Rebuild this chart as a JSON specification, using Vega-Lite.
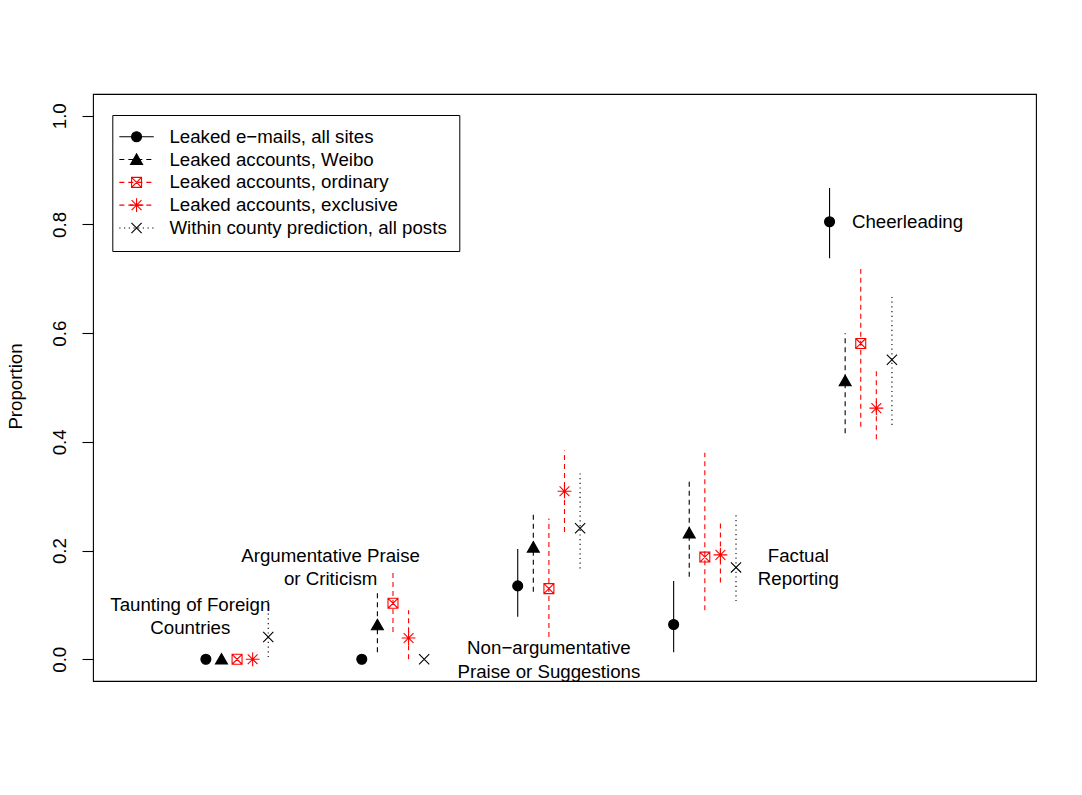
{
  "$schema": "https://vega.github.io/schema/vega-lite/v6.json",
  "width": 943,
  "height": 587,
  "autosize": {"type": "none"},
  "padding": {"left": 93, "top": 94, "right": 46, "bottom": 114},
  "background": "white",
  "config": {
    "view": {"stroke": "black", "strokeWidth": 1.1},
    "font": "Liberation Sans"
  },
  "data": {
    "values": [
      {"category": "Taunting of Foreign Countries", "series": "Leaked e−mails, all sites", "x": 0.8, "est": 0, "lo": 0, "hi": 0},
      {"category": "Taunting of Foreign Countries", "series": "Leaked accounts, Weibo", "x": 0.9, "est": 0, "lo": 0, "hi": 0},
      {"category": "Taunting of Foreign Countries", "series": "Leaked accounts, ordinary", "x": 1.0, "est": 0, "lo": 0, "hi": 0},
      {"category": "Taunting of Foreign Countries", "series": "Leaked accounts, exclusive", "x": 1.1, "est": 0, "lo": 0, "hi": 0},
      {"category": "Taunting of Foreign Countries", "series": "Within county prediction, all posts", "x": 1.2, "est": 0.041, "lo": 0.004, "hi": 0.109},
      {"category": "Argumentative Praise or Criticism", "series": "Leaked e−mails, all sites", "x": 1.8, "est": 0, "lo": 0, "hi": 0},
      {"category": "Argumentative Praise or Criticism", "series": "Leaked accounts, Weibo", "x": 1.9, "est": 0.063, "lo": 0.013, "hi": 0.122},
      {"category": "Argumentative Praise or Criticism", "series": "Leaked accounts, ordinary", "x": 2.0, "est": 0.103, "lo": 0.05, "hi": 0.162},
      {"category": "Argumentative Praise or Criticism", "series": "Leaked accounts, exclusive", "x": 2.1, "est": 0.039, "lo": 0, "hi": 0.09},
      {"category": "Argumentative Praise or Criticism", "series": "Within county prediction, all posts", "x": 2.2, "est": 0, "lo": 0, "hi": 0},
      {"category": "Non-argumentative Praise or Suggestions", "series": "Leaked e−mails, all sites", "x": 2.8, "est": 0.135, "lo": 0.078, "hi": 0.203},
      {"category": "Non-argumentative Praise or Suggestions", "series": "Leaked accounts, Weibo", "x": 2.9, "est": 0.206, "lo": 0.124, "hi": 0.271},
      {"category": "Non-argumentative Praise or Suggestions", "series": "Leaked accounts, ordinary", "x": 3.0, "est": 0.13, "lo": 0.041, "hi": 0.259},
      {"category": "Non-argumentative Praise or Suggestions", "series": "Leaked accounts, exclusive", "x": 3.1, "est": 0.309, "lo": 0.234, "hi": 0.384},
      {"category": "Non-argumentative Praise or Suggestions", "series": "Within county prediction, all posts", "x": 3.2, "est": 0.241, "lo": 0.167, "hi": 0.342},
      {"category": "Factual Reporting", "series": "Leaked e−mails, all sites", "x": 3.8, "est": 0.064, "lo": 0.013, "hi": 0.144},
      {"category": "Factual Reporting", "series": "Leaked accounts, Weibo", "x": 3.9, "est": 0.232, "lo": 0.152, "hi": 0.328},
      {"category": "Factual Reporting", "series": "Leaked accounts, ordinary", "x": 4.0, "est": 0.188, "lo": 0.09, "hi": 0.38},
      {"category": "Factual Reporting", "series": "Leaked accounts, exclusive", "x": 4.1, "est": 0.192, "lo": 0.141, "hi": 0.254},
      {"category": "Factual Reporting", "series": "Within county prediction, all posts", "x": 4.2, "est": 0.169, "lo": 0.107, "hi": 0.265},
      {"category": "Cheerleading", "series": "Leaked e−mails, all sites", "x": 4.8, "est": 0.805, "lo": 0.738, "hi": 0.867},
      {"category": "Cheerleading", "series": "Leaked accounts, Weibo", "x": 4.9, "est": 0.512, "lo": 0.416, "hi": 0.6},
      {"category": "Cheerleading", "series": "Leaked accounts, ordinary", "x": 5.0, "est": 0.581, "lo": 0.428, "hi": 0.718},
      {"category": "Cheerleading", "series": "Leaked accounts, exclusive", "x": 5.1, "est": 0.462, "lo": 0.405, "hi": 0.534},
      {"category": "Cheerleading", "series": "Within county prediction, all posts", "x": 5.2, "est": 0.551, "lo": 0.431, "hi": 0.67}
    ]
  },
  "encoding": {
    "x": {"field": "x", "type": "quantitative", "scale": {"domain": [0.076, 6.124], "nice": false, "zero": false}, "axis": null},
    "y": {
      "type": "quantitative",
      "scale": {"domain": [-0.04, 1.04], "nice": false, "zero": false},
      "axis": {
        "values": [0, 0.2, 0.4, 0.6, 0.8, 1],
        "format": ".1f",
        "title": "Proportion",
        "domain": false,
        "grid": false,
        "ticks": true,
        "tickSize": 11,
        "tickColor": "black",
        "tickWidth": 1.1,
        "labelAngle": 270,
        "labelAlign": "center",
        "labelBaseline": "middle",
        "labelPadding": 22.5,
        "labelFont": "Liberation Sans",
        "labelFontSize": 18.7,
        "labelColor": "black",
        "labelOverlap": false,
        "labelBound": false,
        "labelFlush": false,
        "titleFont": "Liberation Sans",
        "titleFontSize": 18.7,
        "titleFontWeight": "normal",
        "titleColor": "black",
        "titleAngle": 270,
        "titleX": -78,
        "titleY": 292,
        "titleAlign": "center",
        "titleBaseline": "middle"
      }
    }
  },
  "layer": [
    {
      "mark": {"type": "rule", "strokeWidth": 1.1},
      "encoding": {
        "y": {"field": "lo"},
        "y2": {"field": "hi"},
        "color": {
          "field": "series", "type": "nominal",
          "scale": {
            "domain": ["Leaked e−mails, all sites", "Leaked accounts, Weibo", "Leaked accounts, ordinary", "Leaked accounts, exclusive", "Within county prediction, all posts"],
            "range": ["black", "black", "#ff0000", "#ff0000", "black"]
          },
          "legend": {
            "title": null, "orient": "none", "direction": "vertical", "legendX": 19.3, "legendY": 21,
            "symbolType": "M-2.87,0H2.87",
            "symbolSize": 144, "symbolStrokeWidth": 1.1,
            "padding": 12.4, "rowPadding": 2.8, "symbolOffset": 2.5, "labelOffset": 23.5,
            "strokeColor": "black",
            "labelFont": "Liberation Sans", "labelFontSize": 18.7, "labelColor": "black", "labelLimit": 600
          }
        },
        "strokeDash": {
          "field": "series", "type": "nominal",
          "scale": {
            "domain": ["Leaked e−mails, all sites", "Leaked accounts, Weibo", "Leaked accounts, ordinary", "Leaked accounts, exclusive", "Within county prediction, all posts"],
            "range": [[1, 0], [5, 4], [5, 4], [5, 4], [1.2, 3.5]]
          },
          "legend": {
            "title": null, "orient": "none", "direction": "vertical", "legendX": 19.3, "legendY": 21,
            "symbolType": "M-2.87,0H2.87",
            "symbolSize": 144, "symbolStrokeWidth": 1.1,
            "padding": 12.4, "rowPadding": 2.8, "symbolOffset": 2.5, "labelOffset": 23.5,
            "strokeColor": "black",
            "labelFont": "Liberation Sans", "labelFontSize": 18.7, "labelColor": "black", "labelLimit": 600
          }
        }
      }
    },
    {
      "mark": {"type": "point", "size": 144, "strokeWidth": 1.1, "opacity": 1},
      "encoding": {
        "y": {"field": "est"},
        "shape": {
          "field": "series", "type": "nominal", "sort": null,
          "scale": {
            "range": [
              "M-2.87,0M2.87,0M-0.83,0A0.83,0.83,0,1,1,0.83,0A0.83,0.83,0,1,1,-0.83,0Z",
              "M-2.87,0M2.87,0M0,-0.95L1,0.8L-1,0.8Z",
              "M-2.87,0M2.87,0M-0.83,-0.83H0.83V0.83H-0.83ZM-0.83,-0.83L0.83,0.83M-0.83,0.83L0.83,-0.83",
              "M-2.87,0M2.87,0M-1.15,0H1.15M0,-1.15V1.15M-0.82,-0.82L0.82,0.82M-0.82,0.82L0.82,-0.82",
              "M-2.87,0M2.87,0M-0.85,-0.85L0.85,0.85M-0.85,0.85L0.85,-0.85"
            ]
          },
          "legend": {
            "title": null, "orient": "none", "direction": "vertical", "legendX": 19.3, "legendY": 21,
            "symbolSize": 144, "symbolStrokeWidth": 1.1,
            "padding": 12.4, "rowPadding": 2.8, "symbolOffset": 2.5, "labelOffset": 23.5,
            "labelOpacity": 0,
            "labelFont": "Liberation Sans", "labelFontSize": 18.7, "labelColor": "black", "labelLimit": 600
          }
        },
        "fill": {
          "field": "series", "type": "nominal", "sort": null,
          "scale": {"range": ["black", "black", "transparent", "transparent", "transparent"]},
          "legend": {
            "title": null, "orient": "none", "direction": "vertical", "legendX": 19.3, "legendY": 21,
            "symbolSize": 144, "symbolStrokeWidth": 1.1,
            "padding": 12.4, "rowPadding": 2.8, "symbolOffset": 2.5, "labelOffset": 23.5,
            "labelOpacity": 0,
            "labelFont": "Liberation Sans", "labelFontSize": 18.7, "labelColor": "black", "labelLimit": 600
          }
        },
        "stroke": {
          "field": "series", "type": "nominal", "sort": null,
          "scale": {"range": ["black", "black", "#ff0000", "#ff0000", "black"]},
          "legend": {
            "title": null, "orient": "none", "direction": "vertical", "legendX": 19.3, "legendY": 21,
            "symbolSize": 144, "symbolStrokeWidth": 1.1,
            "padding": 12.4, "rowPadding": 2.8, "symbolOffset": 2.5, "labelOffset": 23.5,
            "labelOpacity": 0,
            "labelFont": "Liberation Sans", "labelFontSize": 18.7, "labelColor": "black", "labelLimit": 600
          }
        }
      }
    },
    {
      "data": {
        "values": [
          {"label": "Taunting of Foreign\nCountries", "x": 0.7, "y": 0.079},
          {"label": "Argumentative Praise\nor Criticism", "x": 1.6, "y": 0.169},
          {"label": "Non−argumentative\nPraise or Suggestions", "x": 3.0, "y": -0.001},
          {"label": "Factual\nReporting", "x": 4.6, "y": 0.169}
        ]
      },
      "mark": {"type": "text", "align": "center", "baseline": "middle", "lineBreak": "\n", "lineHeight": 23.5, "dy": -11.75, "font": "Liberation Sans", "fontSize": 18.7, "color": "black"},
      "encoding": {
        "y": {"field": "y", "type": "quantitative"},
        "text": {"field": "label", "type": "nominal"}
      }
    },
    {
      "data": {
        "values": [
          {"label": "Cheerleading", "x": 5.3, "y": 0.805}
        ]
      },
      "mark": {"type": "text", "align": "center", "baseline": "middle", "font": "Liberation Sans", "fontSize": 18.7, "color": "black"},
      "encoding": {
        "y": {"field": "y", "type": "quantitative"},
        "text": {"field": "label", "type": "nominal"}
      }
    }
  ]
}
